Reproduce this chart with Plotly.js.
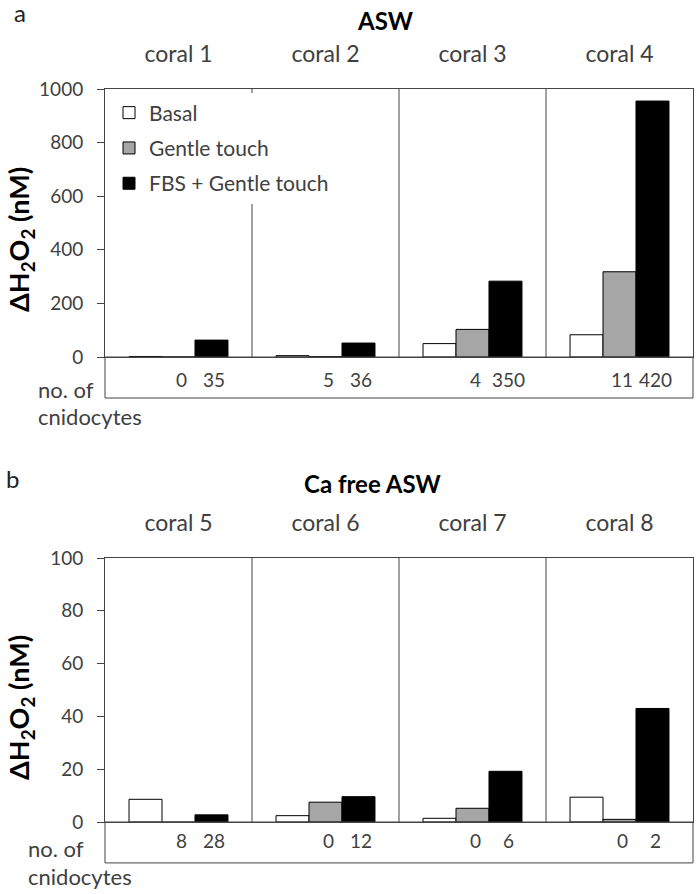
<!DOCTYPE html>
<html>
<head>
<meta charset="utf-8">
<script src="https://cdn.plot.ly/plotly-3.0.1.min.js"></script>
<style>html,body{margin:0;padding:0;background:#fff;}#chart{width:700px;height:894px;}</style>
</head>
<body>
<div id="chart"></div>
<script>
// ---- data ----
const categoriesA = ["coral 1", "coral 2", "coral 3", "coral 4"];
const basalA = [2, 5, 50, 83];
const gentleA = [0, 1, 103, 318];
const fbsA = [63, 52, 283, 955];
const countsGentleA = ["0", "5", "4", "11"];
const countsFbsA = ["35", "36", "350", "420"];

const categoriesB = ["coral 5", "coral 6", "coral 7", "coral 8"];
const basalB = [8.6, 2.4, 1.4, 9.4];
const gentleB = [-0.5, 7.5, 5.2, 1.0];
const fbsB = [2.7, 9.6, 19.2, 43];
const countsGentleB = ["8", "0", "0", "0"];
const countsFbsB = ["28", "12", "6", "2"];

const seriesNames = ["Basal", "Gentle touch", "FBS + Gentle touch"];
const seriesColors = ["#ffffff", "#a6a6a6", "#000000"];
const yTitle = "<b>ΔH<sub>2</sub>O<sub>2</sub> (nM)</b>";

// ---- styling ----
const FONT = "Lato, 'Open Sans', sans-serif";
const TXT = "#404040";
const LINE = "#444444";
const BARGAP = 0.327;
const W = (1 - BARGAP) / 3;

function bar(x, y, i, xa, ya, showlegend) {
  return {
    type: "bar", x: x, y: y, name: seriesNames[i], xaxis: xa, yaxis: ya,
    marker: {color: seriesColors[i], line: {color: "#000", width: 1}},
    showlegend: showlegend, legendgroup: "g" + i, hoverinfo: "skip"
  };
}

const data = [
  bar(categoriesA, basalA, 0, "x", "y", true),
  bar(categoriesA, gentleA, 1, "x", "y", true),
  bar(categoriesA, fbsA, 2, "x", "y", true),
  bar(categoriesB, basalB, 0, "x2", "y2", false),
  bar(categoriesB, gentleB, 1, "x2", "y2", false),
  bar(categoriesB, fbsB, 2, "x2", "y2", false)
];

const H = 894;
const pa = px => 1 - px / H;

function xaxisDef(domainAnchor) {
  return {
    domain: [0, 1], anchor: domainAnchor, side: "top", type: "category",
    showline: true, mirror: true, linecolor: LINE, linewidth: 1,
    ticks: "", ticklabelstandoff: 17,
    tickfont: {family: FONT, size: 23, color: TXT},
    showgrid: false, zeroline: false, fixedrange: true
  };
}
function yaxisDef(domain, range, dtick, anchor) {
  return {
    domain: domain, anchor: anchor, range: range, dtick: dtick,
    showline: true, mirror: true, linecolor: LINE, linewidth: 1,
    ticks: "outside", ticklen: 7, tickcolor: LINE, ticklabelstandoff: 10,
    tickfont: {family: FONT, size: 19, color: TXT},
    showgrid: false, zeroline: false, automargin: false, fixedrange: true
  };
}

const shapes = [];
function panelShapes(xa, ya, ymax, boxDepth) {
  shapes.push({type: "rect", xref: xa + " domain", yref: ya + " domain", x0: 0, x1: 1, y0: boxDepth, y1: 0,
    line: {color: LINE, width: 1}, fillcolor: "rgba(0,0,0,0)"});
  [0.5, 1.5, 2.5].forEach(b => shapes.push({type: "line", xref: xa, yref: ya, x0: b, x1: b, y0: 0, y1: ymax,
    line: {color: LINE, width: 1}, layer: "below"}));
}
panelShapes("x", "y", 1000, -0.153);
panelShapes("x2", "y2", 100, -0.155);

const annotations = [];
function countLabels(xa, ya, gentle, fbs, yy) {
  for (let i = 0; i < gentle.length; i++) {
    annotations.push({xref: xa, yref: ya + " domain", x: i + 0.02, y: yy, text: gentle[i], showarrow: false,
      font: {family: FONT, size: 19, color: TXT}, xanchor: "center", yanchor: "middle"});
    annotations.push({xref: xa, yref: ya + " domain", x: i + W + 0.02, y: yy, text: fbs[i], showarrow: false,
      font: {family: FONT, size: 19, color: TXT}, xanchor: "center", yanchor: "middle"});
  }
}
countLabels("x", "y", countsGentleA, countsFbsA, -0.085);
countLabels("x2", "y2", countsGentleB, countsFbsB, -0.07);

function txt(text, xpx, ypx, size, color, anchor, bold, angle) {
  annotations.push({xref: "paper", yref: "paper", x: (xpx - 105) / 588, y: pa(ypx), text: bold ? "<b>" + text + "</b>" : text,
    showarrow: false, xanchor: anchor, yanchor: "middle", textangle: angle || 0,
    font: {family: FONT, size: size, color: color}});
}
txt("a", 12, 13, 24, "#222", "left", false);
txt("ASW", 385, 20, 24, "#000", "center", true);
txt("b", 4, 478, 24, "#222", "left", false);
txt("Ca free ASW", 372, 483, 24, "#000", "center", true);
txt("no. of", 36, 389, 22, TXT, "left", false);
txt("cnidocytes", 36, 417, 22, TXT, "left", false);
txt("no. of", 26, 848, 22, TXT, "left", false);
txt("cnidocytes", 26, 876, 22, TXT, "left", false);
txt(yTitle, 20, 240, 27, "#000", "center", false, -90);
txt(yTitle, 20, 708, 27, "#000", "center", false, -90);

const layout = {
  width: 700, height: 894,
  margin: {l: 105, r: 7, t: 0, b: 0},
  paper_bgcolor: "#fff", plot_bgcolor: "#fff",
  barmode: "group", bargap: BARGAP, bargroupgap: 0,
  xaxis: xaxisDef("y"),
  yaxis: yaxisDef([pa(357), pa(89)], [0, 1000], 200, "x"),
  xaxis2: xaxisDef("y2"),
  yaxis2: yaxisDef([pa(822), pa(558)], [0, 100], 20, "x2"),
  showlegend: true,
  legend: {x: 4 / 588, y: pa(92.5), xanchor: "left", yanchor: "top", bgcolor: "#fff", borderwidth: 0,
    font: {family: FONT, size: 21, color: TXT}, tracegroupgap: 5, traceorder: "grouped"},
  shapes: shapes,
  annotations: annotations
};

Plotly.newPlot("chart", data, layout, {staticPlot: true});
</script>
</body>
</html>
